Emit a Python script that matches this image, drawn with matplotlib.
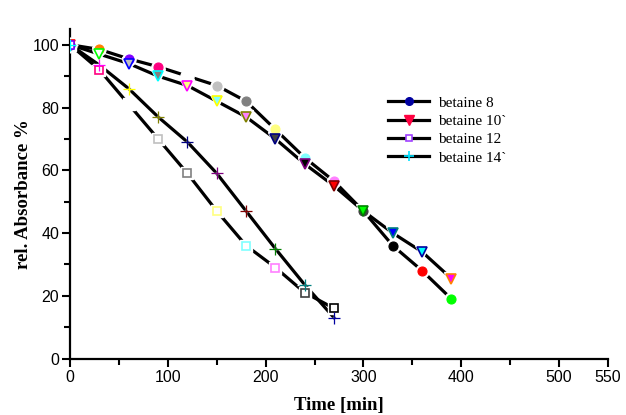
import matplotlib.pyplot as plt
from matplotlib.lines import Line2D

# Data
time_a = [0, 30, 60, 90, 120, 150, 180, 210, 240, 270, 300, 330, 360, 390]
betaine_8 = [100, 98.5, 95.5, 93, 90, 87, 82, 73, 64, 56.5, 47, 36, 28, 19]
betaine_10 = [100, 97, 94, 90, 87, 82, 77, 70, 62, 55, 47, 40, 34, 25.5]

time_b = [0, 30, 60, 90, 120, 150, 180, 210, 240, 270]
betaine_12 = [100, 92, 81, 70, 59, 47, 36, 29, 21, 16]
betaine_14 = [100, 93.5, 86, 77, 69, 59, 47, 35, 23.5, 13]

labels = ['betaine 8', 'betaine 10`', 'betaine 12', 'betaine 14`']

# Origin-style colour increment
origin = ['#000000', '#ff0000', '#00ff00', '#0000ff', '#00ffff', '#ff00ff',
          '#ffff00', '#808000', '#000080', '#800080', '#800000', '#008000',
          '#008080', '#0000a0', '#ff8000', '#8000ff', '#ff0080', '#ffffff',
          '#c0c0c0', '#808080', '#ffff80', '#80ffff', '#ff80ff', '#404040']

def cyc(start, n):
    return [origin[(start + i) % len(origin)] for i in range(n)]

fig = plt.figure(figsize=(6.26, 4.15), dpi=100)
ax = fig.add_axes([0.112, 0.136, 0.859, 0.794])

lw = 2.3

def draw(x, y, marker, ms, faces, edges, mew):
    ax.plot(x, y, color='black', lw=lw, zorder=2)
    # white halo gives the gap in the line around each symbol
    ax.plot(x, y, ls='none', marker=marker, ms=ms + 3, mfc='white', mec='white',
            mew=1, zorder=3)
    for xi, yi, fc, ec in zip(x, y, faces, edges):
        ax.plot([xi], [yi], ls='none', marker=marker, ms=ms, mfc=fc, mec=ec,
                mew=mew, zorder=4)

# betaine 8: filled circles
c8 = cyc(13, len(time_a))
draw(time_a, betaine_8, 'o', 6.5, c8, c8, 0.8)
# betaine 10: down triangles, separate fill / edge increments
draw(time_a, betaine_10, 'v', 7, cyc(16, len(time_a)), cyc(1, len(time_a)), 1.2)
# betaine 12: open squares
draw(time_b, betaine_12, 's', 6, ['white'] * len(time_b), cyc(15, len(time_b)), 1.2)
# betaine 14: plus
draw(time_b, betaine_14, '+', 8, cyc(4, len(time_b)), cyc(4, len(time_b)), 0.9)

ax.set_xlim(0, 550)
ax.set_ylim(0, 105)
ax.set_xticks([0, 100, 200, 300, 400, 500, 550])
ax.set_xticks([50, 150, 250, 350, 450], minor=True)
ax.set_yticks([0, 20, 40, 60, 80, 100])
ax.set_yticks([10, 30, 50, 70, 90], minor=True)

for s in ['top', 'right']:
    ax.spines[s].set_visible(False)
for s in ['left', 'bottom']:
    ax.spines[s].set_linewidth(1.6)
ax.tick_params(which='major', direction='out', length=6, width=1.5,
               labelsize=11.5, pad=2)
ax.tick_params(which='minor', direction='out', length=4, width=1.5)
for t in ax.get_xticklabels() + ax.get_yticklabels():
    t.set_family('Liberation Sans')

ax.set_xlabel('Time [min]', family='Liberation Serif', fontweight='bold',
              fontsize=13.5, labelpad=9)
ax.set_ylabel('rel. Absorbance %', family='Liberation Serif', fontweight='bold',
              fontsize=13.5, labelpad=0)

handles = [
    Line2D([], [], color='black', lw=lw, marker='o', ms=5.5, mfc='#0000a0', mec='#0000a0'),
    Line2D([], [], color='black', lw=lw, marker='v', ms=6.5, mfc='#ff0040', mec='#ff0040'),
    Line2D([], [], color='black', lw=lw, marker='s', ms=5, mfc='white', mec='#a040ff', mew=1.2),
    Line2D([], [], color='black', lw=lw, marker='+', ms=7, mfc='#00e0ff', mec='#00e0ff', mew=1.2),
]
ax.legend(handles, labels, loc='upper left', bbox_to_anchor=(388 / 626, 1 - 96 / 415),
          bbox_transform=fig.transFigure, frameon=False, handlelength=2.7,
          handletextpad=0.6, labelspacing=0.3, borderpad=0, borderaxespad=0,
          prop={'family': 'Liberation Serif', 'size': 11})

fig.savefig('out.png', dpi=100)
